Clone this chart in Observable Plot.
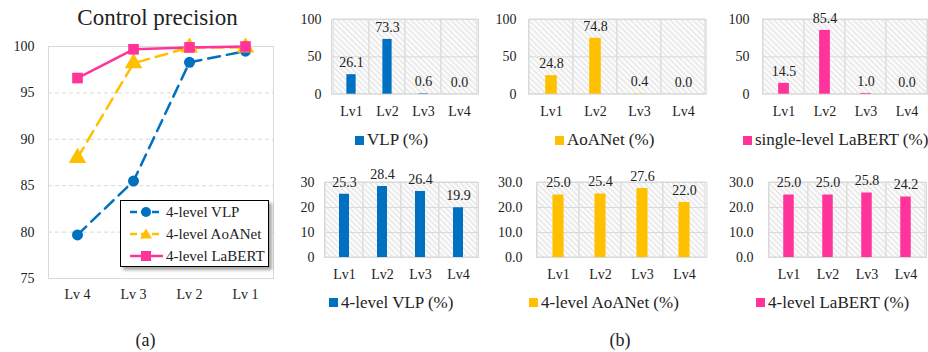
<!DOCTYPE html>
<html><head><meta charset="utf-8">
<script src="https://cdn.jsdelivr.net/npm/d3@7"></script>
<script src="https://cdn.jsdelivr.net/npm/@observablehq/plot@0.6"></script>
<style>
body{margin:0;background:#fff;}
#root{position:relative;width:928px;height:352px;font-family:"Liberation Serif","Times New Roman",serif;color:#222;overflow:hidden;}
#root svg{position:absolute;overflow:visible;}
.txt{position:absolute;white-space:nowrap;line-height:1;}
.leg{position:absolute;display:flex;align-items:center;height:20px;font-size:17px;white-space:nowrap;}
.sw{display:inline-block;width:9px;height:9px;margin-right:3px;flex:none;}
</style></head><body><div id="root"></div>
<script>
// ---- data ----
const levelsA = ["Lv 4","Lv 3","Lv 2","Lv 1"];
const seriesNames = ["4-level VLP","4-level AoANet","4-level LaBERT"];
const vlp4 = [79.7, 85.5, 98.3, 99.5];
const aoa4 = [88.0, 98.2, 99.9, 99.9];
const labert4 = [96.6, 99.7, 99.9, 100.0];
const ticksA = [75, 80, 85, 90, 95, 100];

const levelsB = ["Lv1","Lv2","Lv3","Lv4"];
const vlpSingle = [26.1, 73.3, 0.6, 0.0];
const aoaSingle = [24.8, 74.8, 0.4, 0.0];
const labertSingle = [14.5, 85.4, 1.0, 0.0];
const vlpMulti = [25.3, 28.4, 26.4, 19.9];
const aoaMulti = [25.0, 25.4, 27.6, 22.0];
const labertMulti = [25.0, 25.0, 25.8, 24.2];
const ticksTop = [0, 50, 100];
const ticksBottom = [0, 10, 20, 30];
const barLegends = ["VLP (%)","AoANet (%)","single-level LaBERT (%)","4-level VLP (%)","4-level AoANet (%)","4-level LaBERT (%)"];

const BLUE = "#0070C0", GOLD = "#FFC000", PINK = "#FF3399";
const root = document.getElementById("root");
const FONT = "'Liberation Serif','Times New Roman',serif";

function addText(str, x, y, size, anchor = "middle") {
  const d = document.createElement("div");
  d.className = "txt";
  d.textContent = str;
  d.style.fontSize = size + "px";
  d.style.left = x + "px";
  d.style.top = (y - size / 2) + "px";
  if (anchor === "middle") d.style.transform = "translateX(-50%)";
  root.appendChild(d);
}

// ---- panel (a) ----
const seriesVals = [vlp4, aoa4, labert4];
const rows = seriesVals.map((vals, s) => levelsA.map((lv, i) => ({series: seriesNames[s], level: lv, value: vals[i]})));
const colorsA = [BLUE, GOLD, PINK];

const plotA = Plot.plot({
  width: 290, height: 352,
  marginLeft: 48, marginRight: 17, marginTop: 46, marginBottom: 74,
  x: {type: "point", domain: levelsA, padding: 0.5},
  y: {domain: [75, 100]},
  style: {fontFamily: FONT, fontSize: "14px", color: "#222", background: "transparent"},
  marks: [
    Plot.gridY(ticksA.slice(1, -1), {stroke: "#d9d9d9", strokeOpacity: 1, strokeDasharray: "4,3"}),
    Plot.frame({stroke: "#d9d9d9"}),
    Plot.axisY(ticksA, {tickSize: 0, tickPadding: 14, fontSize: 14, label: null}),
    Plot.axisX({tickSize: 0, tickPadding: 11, fontSize: 14, label: null}),
    Plot.line(rows[0], {x: "level", y: "value", stroke: BLUE, strokeWidth: 2.5, strokeDasharray: "12,7"}),
    Plot.line(rows[1], {x: "level", y: "value", stroke: GOLD, strokeWidth: 2.5, strokeDasharray: "12,7"}),
    Plot.line(rows[2], {x: "level", y: "value", stroke: PINK, strokeWidth: 2.5}),
    Plot.dot(rows[0], {x: "level", y: "value", symbol: "circle", r: 5.5, fill: BLUE}),
    Plot.dot(rows[1], {x: "level", y: "value", symbol: "triangle", r: 6.5, fill: GOLD}),
    Plot.dot(rows[2], {x: "level", y: "value", symbol: "square", r: 6, fill: PINK})
  ]
});
plotA.style.left = "0px"; plotA.style.top = "0px";
root.appendChild(plotA);

addText("Control precision", 157.5, 17, 23);
addText("(a)", 145.5, 340, 18);
addText("(b)", 620, 340, 18);

// legend (a)
const legA = document.createElement("div");
legA.style.cssText = "position:absolute;left:120px;top:200px;width:149px;height:67px;box-sizing:border-box;border:1.3px solid #000;background:#fff;box-shadow:3px 3px 3px rgba(0,0,0,0.35);";
const symbols = [
  c => `<circle cx="16" cy="7" r="5" fill="${c}"/>`,
  c => `<path d="M16,1.5 L22,11.5 L10,11.5Z" fill="${c}"/>`,
  c => `<rect x="11" y="2" width="10" height="10" fill="${c}"/>`
];
const dashes = ["7,4", "7,4", null];
seriesNames.forEach((name, s) => {
  const r = document.createElement("div");
  r.style.cssText = `position:absolute;left:9px;top:${1 + s * 22}px;height:20px;display:flex;align-items:center;font-size:15px;white-space:nowrap;`;
  r.innerHTML = `<svg width="34" height="14" style="position:static;margin-right:2px"><line x1="0" y1="7" x2="33" y2="7" stroke="${colorsA[s]}" stroke-width="2.5" ${dashes[s] ? `stroke-dasharray="${dashes[s]}"` : ""}/>${symbols[s](colorsA[s])}</svg><span>${name}</span>`;
  legA.appendChild(r);
});
root.appendChild(legA);

// ---- panel (b) ----
const barSpecs = [
  {vals: vlpSingle, color: BLUE, fl: 331, fr: 478, ft: 19.3, fb: 94, ticks: ticksTop, fmt: d => d, gap: 10, bw: 10, legX: 355, legY: 140},
  {vals: aoaSingle, color: GOLD, fl: 528.3, fr: 706, ft: 19.3, fb: 94, ticks: ticksTop, fmt: d => d, gap: 12, bw: 12, legX: 555, legY: 140},
  {vals: labertSingle, color: PINK, fl: 762, fr: 927, ft: 19.3, fb: 94, ticks: ticksTop, fmt: d => d, gap: 13, bw: 11, legX: 743, legY: 140},
  {vals: vlpMulti, color: BLUE, fl: 323.5, fr: 477.5, ft: 182, fb: 257, ticks: ticksBottom, fmt: d => d, gap: 10, bw: 10.5, legX: 329, legY: 302.5},
  {vals: aoaMulti, color: GOLD, fl: 535.5, fr: 706, ft: 182, fb: 257, ticks: ticksBottom, fmt: d => d.toFixed(1), gap: 14, bw: 11.7, legX: 529, legY: 302.5},
  {vals: labertMulti, color: PINK, fl: 768, fr: 926, ft: 182, fb: 257, ticks: ticksBottom, fmt: d => d.toFixed(1), gap: 15, bw: 11, legX: 756, legY: 302.5}
];

barSpecs.forEach((sp, k) => {
  const data = levelsB.map((lv, i) => ({level: lv, value: sp.vals[i]}));
  const ml = 50, mr = 2, mt = 20, mb = 32;
  const fw = sp.fr - sp.fl, fh = sp.fb - sp.ft;
  const inset = (fw / 4 - sp.bw) / 2;
  const pid = "hatch" + k;
  const svg = Plot.plot({
    width: fw + ml + mr, height: fh + mt + mb,
    marginLeft: ml, marginRight: mr, marginTop: mt, marginBottom: mb,
    x: {type: "band", domain: levelsB, padding: 0},
    y: {domain: [0, sp.ticks[sp.ticks.length - 1]]},
    style: {fontFamily: FONT, fontSize: "14px", color: "#222", background: "transparent"},
    marks: [
      Plot.cell(levelsB, {x: d => d, fill: `url(#${pid})`, stroke: "#d9d9d9", strokeWidth: 1}),
      Plot.gridY(sp.ticks.slice(1, -1), {stroke: "#d9d9d9", strokeOpacity: 1, strokeWidth: 1}),
      Plot.frame({stroke: "#d9d9d9"}),
      Plot.axisY(sp.ticks, {tickSize: 0, tickPadding: sp.gap, tickFormat: sp.fmt, fontSize: 14, label: null}),
      Plot.axisX({tickSize: 0, tickPadding: 12, fontSize: 14, label: null}),
      Plot.barY(data, {x: "level", y: "value", fill: sp.color, insetLeft: inset, insetRight: inset}),
      Plot.text(data, {x: "level", y: "value", text: d => d.value.toFixed(1), dy: -12, fontSize: 14, fill: "#222"})
    ]
  });
  const defs = document.createElementNS("http://www.w3.org/2000/svg", "defs");
  defs.innerHTML = `<pattern id="${pid}" patternUnits="userSpaceOnUse" width="4" height="4" patternTransform="rotate(-45)"><rect width="4" height="4" fill="#fdfdfd"/><line x1="1" y1="0" x2="1" y2="4" stroke="#dadada" stroke-width="1"/></pattern>`;
  svg.insertBefore(defs, svg.firstChild);
  svg.style.left = (sp.fl - ml) + "px";
  svg.style.top = (sp.ft - mt) + "px";
  root.appendChild(svg);

  const lg = document.createElement("div");
  lg.className = "leg";
  lg.style.left = sp.legX + "px";
  lg.style.top = (sp.legY - 10) + "px";
  lg.innerHTML = `<span class="sw" style="background:${sp.color}"></span><span>${barLegends[k]}</span>`;
  root.appendChild(lg);
});
</script></body></html>
